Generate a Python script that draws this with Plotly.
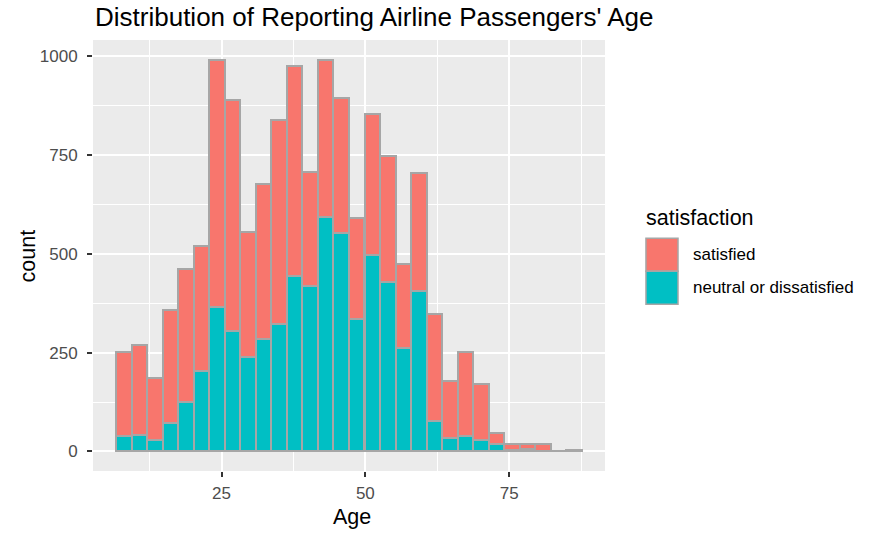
import plotly.graph_objects as go

# histogram of Age, 30 bins (centres)
age_bins = [8.05, 10.74, 13.44, 16.14, 18.83, 21.53, 24.23, 26.93, 29.62, 32.32,
            35.02, 37.71, 40.41, 43.11, 45.80, 48.50, 51.20, 53.89, 56.59, 59.29,
            61.98, 64.68, 67.38, 70.07, 72.77, 75.47, 78.16, 80.86, 83.56, 86.26]
bin_width = 2.697

neutral = [38, 42, 30, 73, 124, 203, 365, 304, 238, 284,
           322, 445, 420, 593, 553, 335, 498, 430, 262, 405,
           78, 35, 40, 30, 19, 4, 6, 2, 1, 2]
satisfied = [213, 228, 155, 286, 338, 318, 627, 586, 318, 394,
             516, 530, 287, 399, 342, 256, 357, 319, 212, 301,
             271, 143, 211, 140, 27, 16, 14, 18, 1, 2]

groups = ["satisfied", "neutral or dissatisfied"]
colors = {"satisfied": "#F8766D", "neutral or dissatisfied": "#00BFC4"}

FONT = "Liberation Sans, Arial, sans-serif"
OUTLINE = "#A6A6A6"

W, H = 873, 540

fig = go.Figure()
# bottom of the stack first
fig.add_trace(go.Bar(x=age_bins, y=neutral, width=bin_width, name=groups[1],
                     marker=dict(color=colors[groups[1]], line=dict(color=OUTLINE, width=2)),
                     showlegend=False))
fig.add_trace(go.Bar(x=age_bins, y=satisfied, width=bin_width, name=groups[0],
                     marker=dict(color=colors[groups[0]], line=dict(color=OUTLINE, width=2)),
                     showlegend=False))

# ggplot-like legend drawn by hand (big keys)
legend_x0, legend_x1 = 1.080, 1.1426
key_y = [(0.5403, 0.4637), (0.4637, 0.3871)]
for g, (ytop, ybot) in zip(groups, key_y):
    fig.add_shape(type="rect", xref="paper", yref="paper",
                  x0=legend_x0, x1=legend_x1, y0=ybot, y1=ytop,
                  fillcolor=colors[g], line=dict(color=OUTLINE, width=1.5))
    fig.add_annotation(text=g, xref="paper", yref="paper", x=1.168, y=(ytop + ybot) / 2,
                       xanchor="left", yanchor="middle", showarrow=False,
                       font=dict(family=FONT, size=17, color="black"))
fig.add_annotation(text="satisfaction", xref="paper", yref="paper", x=legend_x0 - 0.004, y=0.5867,
                   xanchor="left", yanchor="middle", showarrow=False,
                   font=dict(family=FONT, size=21.5, color="black"))

# axis titles placed like ggplot's
fig.add_annotation(text="count", xref="paper", yref="paper", x=-0.127, y=0.5,
                   textangle=-90, xanchor="center", yanchor="middle", showarrow=False,
                   font=dict(family=FONT, size=21.5, color="black"))
fig.add_annotation(text="Age", xref="paper", yref="paper", x=0.506, y=-0.1075,
                   xanchor="center", yanchor="middle", showarrow=False,
                   font=dict(family=FONT, size=21.5, color="black"))

fig.update_layout(
    width=W, height=H,
    margin=dict(l=93, r=268, t=40, b=69, autoexpand=False),
    barmode="stack", bargap=0,
    paper_bgcolor="white", plot_bgcolor="#EBEBEB",
    font=dict(family=FONT),
    title=dict(text="Distribution of Reporting Airline Passengers' Age",
               x=95 / W, xref="container", xanchor="left",
               y=1 - 17 / H, yref="container", yanchor="middle",
               font=dict(family=FONT, size=26, color="black")),
)
fig.update_xaxes(range=[2.65, 91.66], tickvals=[25, 50, 75], showgrid=True, automargin=False,
                 gridcolor="white", gridwidth=1.6, zeroline=False, showline=False,
                 ticks="outside", ticklen=5, tickwidth=1.5, tickcolor="#333333",
                 ticklabelstandoff=2,
                 tickfont=dict(size=17, color="#4D4D4D"),
                 minor=dict(tickvals=[12.5, 37.5, 62.5, 87.5], showgrid=True,
                            gridcolor="white", gridwidth=0.8))
fig.update_yaxes(range=[-49.6, 1041.6], tickvals=[0, 250, 500, 750, 1000], showgrid=True, automargin=False,
                 gridcolor="white", gridwidth=1.6, zeroline=False, showline=False,
                 ticks="outside", ticklen=5, tickwidth=1.5, tickcolor="#333333",
                 ticklabelstandoff=6,
                 tickfont=dict(size=17, color="#4D4D4D"),
                 minor=dict(tickvals=[125, 375, 625, 875], showgrid=True,
                            gridcolor="white", gridwidth=0.8))

# drop the default body margin so the figure fills the window exactly
html = fig.to_html(config={"displayModeBar": False})
html = html.replace("<head>", "<head><style>body{margin:0}</style>", 1)
with open("out.html", "w", encoding="utf-8") as f:
    f.write(html)
